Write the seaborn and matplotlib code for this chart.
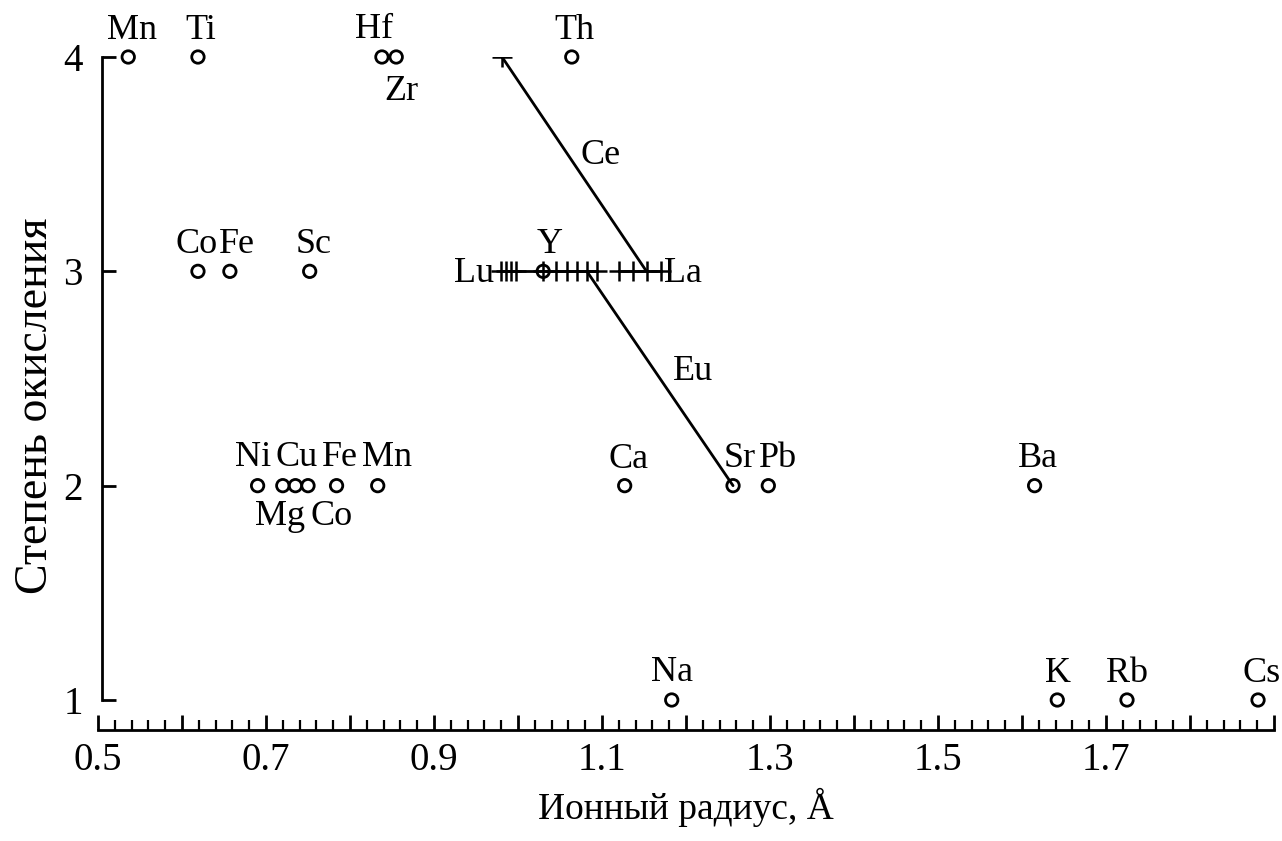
import matplotlib
matplotlib.use("Agg")
import matplotlib.pyplot as plt
import numpy as np
import pandas as pd
import seaborn as sns
from matplotlib.ticker import MultipleLocator

# ions drawn as open circles
ion_names = ["Mn", "Ti", "Hf", "Zr", "Th", "Co", "Fe", "Sc", "Y",
             "Ni", "Mg", "Cu", "Co", "Fe", "Mn", "Ca", "Sr", "Pb", "Ba",
             "Na", "K", "Rb", "Cs"]
ion_radius = [0.536, 0.619, 0.838, 0.855, 1.064, 0.619, 0.657, 0.752, 1.030,
              0.690, 0.720, 0.735, 0.750, 0.784, 0.833, 1.127, 1.256, 1.298, 1.615,
              1.183, 1.642, 1.725, 1.881]
ion_valence = [4, 4, 4, 4, 4, 3, 3, 3, 3,
               2, 2, 2, 2, 2, 2, 2, 2, 2, 2,
               1, 1, 1, 1]

# rare earths (3+), drawn as crosses; Pm left out
ree_names = ["Lu", "Yb", "Tm", "Er", "Ho", "Dy", "Tb", "Gd", "Eu", "Sm",
             "Nd", "Pr", "Ce", "La"]
ree_radius = [0.980, 0.986, 0.992, 0.998, 1.030, 1.045, 1.058, 1.070, 1.082, 1.094,
              1.120, 1.137, 1.153, 1.170]
ree_group = ["heavy"] * 10 + ["light"] * 4

# Ce4+ -> Ce3+ and Eu3+ -> Eu2+
ce_radius = [0.981, 1.153]
ce_valence = [4, 3]
eu_radius = [1.082, 1.256]
eu_valence = [3, 2]

x_ticks = [0.5, 0.7, 0.9, 1.1, 1.3, 1.5, 1.7]
y_ticks = [1, 2, 3, 4]

# label offsets in pixels (dx, dy up), one per circle
label_offsets = [(4, 18), (3, 18), (-8, 19), (5, -43), (3, 18), (-1, 18), (7, 18), (4, 18), (6, 18),
                 (-4, 20), (-3, -39), (1, 20), (24, -39), (3, 20), (9, 20), (4, 18), (7, 19), (10, 19), (3, 19),
                 (0, 19), (1, 18), (0, 18), (4, 18)]

sns.set_theme(style="ticks")
plt.rcParams["font.family"] = ["Liberation Serif", "DejaVu Serif"]
plt.rcParams["text.color"] = "black"
plt.rcParams["axes.labelcolor"] = "black"
plt.rcParams["xtick.color"] = "black"
plt.rcParams["ytick.color"] = "black"

ions = pd.DataFrame({"name": ion_names, "r": ion_radius, "z": ion_valence})
ree = pd.DataFrame({"name": ree_names, "r": ree_radius, "z": 3, "g": ree_group})

fig = plt.figure(figsize=(12.82, 8.41), dpi=100)
ax = fig.add_axes([98 / 1282, 1 - 730 / 841, (1274 - 98) / 1282, (730 - 57) / 841])
lw = 2.0
fs_lab = 26

# lines through the REE row, and the Ce / Eu jumps
for g in ["heavy", "light"]:
    sub = ree[ree["g"] == g]
    sns.lineplot(x=sub["r"], y=sub["z"], ax=ax, color="black", lw=lw,
                 estimator=None, sort=False, legend=False)
sns.lineplot(x=ce_radius, y=ce_valence, ax=ax, color="black", lw=lw,
             estimator=None, sort=False, legend=False)
sns.lineplot(x=eu_radius, y=eu_valence, ax=ax, color="black", lw=lw,
             estimator=None, sort=False, legend=False)

sns.scatterplot(x=ree["r"], y=ree["z"], ax=ax, marker="+", s=190, color="black",
                linewidth=1.8, legend=False, zorder=4)
sns.scatterplot(x=ce_radius[:1], y=ce_valence[:1], ax=ax, marker="+", s=190,
                color="black", linewidth=1.8, legend=False, zorder=4)
sns.scatterplot(data=ions, x="r", y="z", ax=ax, marker="o", s=80,
                facecolor="none", edgecolor="black", linewidth=2.0,
                legend=False, zorder=5, clip_on=False)

for (name, r, z), (dx, dy) in zip(zip(ion_names, ion_radius, ion_valence), label_offsets):
    ax.annotate(name, (r, z), xytext=(dx, dy), textcoords="offset pixels",
                ha="center", va="baseline", fontsize=fs_lab, annotation_clip=False)

ax.annotate("Lu", (ree_radius[0], 3), xytext=(-7, -11), textcoords="offset pixels",
            ha="right", va="baseline", fontsize=fs_lab)
ax.annotate("La", (ree_radius[-1], 3), xytext=(3, -11), textcoords="offset pixels",
            ha="left", va="baseline", fontsize=fs_lab)
ax.annotate("Ce", (np.mean(ce_radius), np.mean(ce_valence)), xytext=(26, 0),
            textcoords="offset pixels", ha="center", va="baseline", fontsize=fs_lab)
ax.annotate("Eu", (np.mean(eu_radius), np.mean(eu_valence)), xytext=(33, -2),
            textcoords="offset pixels", ha="center", va="baseline", fontsize=fs_lab)

ax.set_xlim(0.5, 1.9)
ax.set_ylim(0.86, 4.0)
for s in ["top", "right"]:
    ax.spines[s].set_visible(False)
ax.spines["left"].set_position(("data", 0.505))
ax.spines["left"].set_bounds(1, 4)
ax.spines["bottom"].set_bounds(0.5, 1.9)
for s in ["left", "bottom"]:
    ax.spines[s].set_linewidth(lw)
    ax.spines[s].set_color("black")

major_x = np.round(np.arange(0.5, 1.91, 0.1), 2)
ax.set_xticks(major_x)
ax.set_xticklabels([f"{v:.1f}" if np.any(np.isclose(v, x_ticks)) else "" for v in major_x])
ax.xaxis.set_minor_locator(MultipleLocator(0.02))
ax.set_yticks(y_ticks)
ax.set_yticklabels([str(v) for v in y_ticks])
ax.tick_params(axis="x", which="major", direction="in", length=11, width=lw,
               labelsize=28, pad=9)
ax.tick_params(axis="x", which="minor", direction="in", length=7, width=lw * 0.8)
ax.tick_params(axis="y", which="major", direction="in", length=10, width=lw,
               labelsize=28, pad=14)

ax.set_xlabel("Ионный радиус, Å", fontsize=27, labelpad=6)
ax.set_ylabel("Степень окисления", fontsize=33)
ax.yaxis.set_label_coords(-0.035, 0.482)

fig.savefig("out.png", dpi=100, facecolor="white")
